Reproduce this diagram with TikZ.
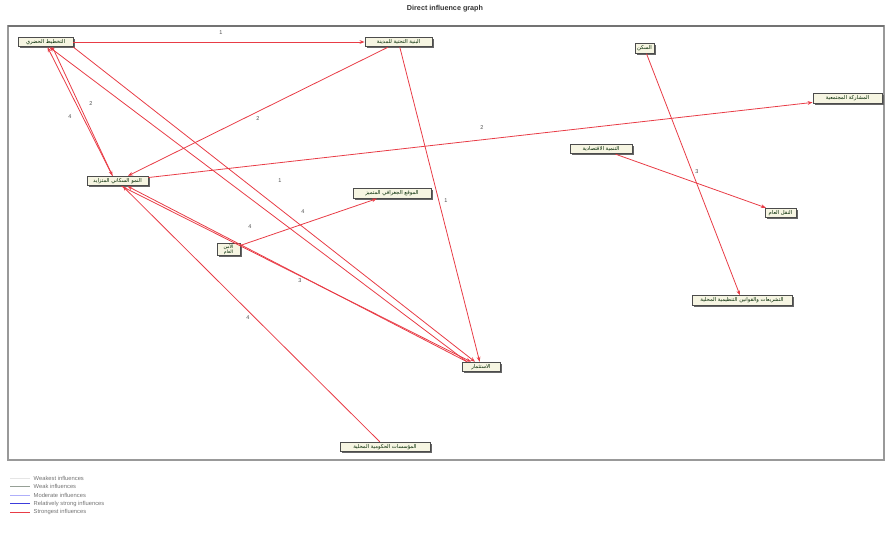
\documentclass[tikz,border=0pt]{standalone}
\usepackage{fontspec}
\setmainfont{Liberation Sans}
\newfontfamily\arabicfont[Script=Arabic]{DejaVu Sans}
\TeXXeTstate=1
\usetikzlibrary{shadows,arrows.meta}
\definecolor{boxfill}{RGB}{246,245,226}
\definecolor{infred}{RGB}{232,60,70}
\definecolor{modblue}{RGB}{175,175,250}
\definecolor{relblue}{RGB}{60,60,220}
\definecolor{weakgray}{RGB}{150,160,150}
\begin{document}
\begin{tikzpicture}[x=1pt,y=-1pt,
  var/.style={draw=black!70, line width=0.9pt, fill=boxfill, inner sep=1pt,
    minimum height=9.5pt, text=black!85!green,
    font=\arabicfont\fontsize{5.3}{5.8}\selectfont,
    drop shadow={shadow xshift=1.6pt, shadow yshift=-1.6pt, fill=black!60, opacity=1}},
  inf/.style={draw=infred, line width=0.8pt, -{Stealth[length=5pt,width=3.8pt]}},
  wt/.style={font=\fontsize{5.5}{6}\selectfont, text=black!70, inner sep=0.5pt},
  leg/.style={font=\fontsize{5.8}{6.5}\selectfont, text=black!55, anchor=west, inner sep=0.5pt},
  legline/.style={line width=0.9pt}]
\useasboundingbox (0,0) rectangle (889,538);
% title and frame
\node[font=\bfseries\fontsize{7.2}{8}\selectfont, text=black!80] (title) at (445,9) {Direct influence graph};
\draw[black!40, line width=1.4pt] (8,26) rectangle (884,460);
\draw[black!55, line width=1.6pt] (8,26) -- (884,26);
% variables
\node[var, minimum width=55pt] (N1) at (45.5,42) {\beginR التخطيط الحضري\endR};
\node[var, minimum width=67pt] (N2) at (398.5,42) {\beginR البنية التحتية للمدينة\endR};
\node[var, minimum width=61pt] (N3) at (117.5,181) {\beginR النمو السكاني المتزايد\endR};
\node[var, minimum width=78pt] (N4) at (392,193.5) {\beginR الموقع الجغرافي المتميز\endR};
\node[var, minimum width=23pt, align=center, font=\arabicfont\fontsize{4.6}{5}\selectfont] (N5) at (228.5,249.5) {\beginR الأمن\endR\\\beginR العام\endR};
\node[var, minimum width=19pt] (N6) at (644.5,48.5) {\beginR السكن\endR};
\node[var, minimum width=69pt] (N7) at (847.5,98.5) {\beginR المشاركة المجتمعية\endR};
\node[var, minimum width=62pt] (N8) at (601,149) {\beginR التنمية الاقتصادية\endR};
\node[var, minimum width=31pt] (N9) at (780.5,213) {\beginR النقل العام\endR};
\node[var, minimum width=100pt] (N10) at (742,300.5) {\beginR التشريعات والقوانين التنظيمية المحلية\endR};
\node[var, minimum width=38pt] (N11) at (481,367) {\beginR الاستثمار\endR};
\node[var, minimum width=90pt] (N12) at (385,447) {\beginR المؤسسات الحكومية المحلية\endR};
% influences
\draw[inf] (N1) -- (N2);
\draw[inf] ([xshift=7pt]N1.south) -- ([xshift=-5pt]N3.north);
\draw[inf] ([xshift=-5pt]N3.north) -- ([xshift=2pt]N1.south);
\draw[inf] (N2) -- (N3);
\draw[inf] (N2) -- (N11);
\draw[inf] (N1.south east) -- ([xshift=-6pt]N11.north);
\draw[inf] ([xshift=-14pt]N11.north) -- ([xshift=4pt]N1.south);
\draw[inf] ([xshift=4pt]N3.south) -- ([xshift=-10pt]N11.north);
\draw[inf] ([xshift=-14pt]N11.north) -- ([xshift=10pt]N3.south);
\draw[inf] (N3) -- (N7);
\draw[inf] (N5) -- (N4);
\draw[inf] (N12) -- (N3);
\draw[inf] (N6) -- (N10);
\draw[inf] (N8) -- (N9);
% weights
\node[wt] (w1) at (221,33) {1};
\node[wt] (w2) at (91,104) {2};
\node[wt] (w3) at (70,117) {4};
\node[wt] (w4) at (258,119) {2};
\node[wt] (w5) at (482,128) {2};
\node[wt] (w6) at (280,181) {1};
\node[wt] (w7) at (303,212) {4};
\node[wt] (w8) at (250,227) {4};
\node[wt] (w9) at (300,281) {3};
\node[wt] (w10) at (248,318) {4};
\node[wt] (w11) at (446,201) {1};
\node[wt] (w12) at (697,172) {3};
% legend
\coordinate (l1a) at (10,478); \coordinate (l1b) at (30,478);
\coordinate (l2a) at (10,486.5); \coordinate (l2b) at (30,486.5);
\coordinate (l3a) at (10,495); \coordinate (l3b) at (30,495);
\coordinate (l4a) at (10,503.5); \coordinate (l4b) at (30,503.5);
\coordinate (l5a) at (10,512); \coordinate (l5b) at (30,512);
\draw[legline, black!10] (l1a) -- (l1b);
\draw[legline, weakgray] (l2a) -- (l2b);
\draw[legline, modblue] (l3a) -- (l3b);
\draw[legline, relblue] (l4a) -- (l4b);
\draw[legline, infred] (l5a) -- (l5b);
\node[leg] (t1) at (33,478) {Weakest influences};
\node[leg] (t2) at (33,486.5) {Weak influences};
\node[leg] (t3) at (33,495) {Moderate influences};
\node[leg] (t4) at (33,503.5) {Relatively strong influences};
\node[leg] (t5) at (33,512) {Strongest influences};
\end{tikzpicture}
\end{document}
